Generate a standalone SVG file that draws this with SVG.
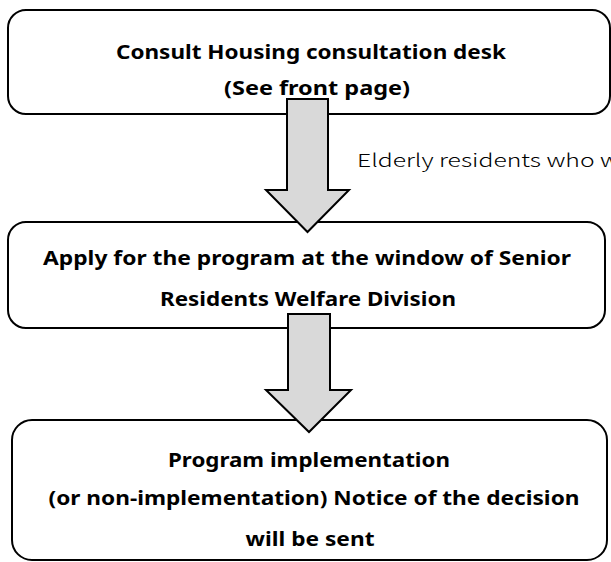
<svg xmlns="http://www.w3.org/2000/svg" width="611" height="562" viewBox="0 0 611 562">
<style>
.box{fill:#fff;stroke:#000;stroke-width:2}
.t{font-family:"Noto Sans","DejaVu Sans",sans-serif;font-weight:bold;font-size:19px;fill:#000;text-anchor:middle}
.note{font-family:"Noto Sans CJK JP","Noto Sans",sans-serif;font-weight:300;font-size:18px;fill:#000}
.arrow{fill:#d9d9d9;stroke:#000;stroke-width:2;stroke-linejoin:miter}
</style>
<rect width="611" height="562" fill="#fff"/>
<g id="node1">
<rect class="box" x="8" y="10" width="602" height="104" rx="18"/>
<text class="t" x="311" y="59" textLength="390" lengthAdjust="spacingAndGlyphs">Consult Housing consultation desk</text>
<text class="t" x="317" y="95" textLength="186" lengthAdjust="spacingAndGlyphs">(See front page)</text>
</g>
<g id="node2">
<rect class="box" x="8" y="222" width="597" height="106" rx="18"/>
<text class="t" x="307" y="265" textLength="528" lengthAdjust="spacingAndGlyphs">Apply for the program at the window of Senior</text>
<text class="t" x="308" y="306" textLength="296" lengthAdjust="spacingAndGlyphs">Residents Welfare Division</text>
</g>
<g id="node3">
<rect class="box" x="12" y="420" width="595" height="140" rx="20"/>
<text class="t" x="309" y="467" textLength="282" lengthAdjust="spacingAndGlyphs">Program implementation</text>
<text class="t" x="314" y="505" textLength="531" lengthAdjust="spacingAndGlyphs">(or non-implementation) Notice of the decision</text>
<text class="t" x="310" y="546" textLength="129" lengthAdjust="spacingAndGlyphs">will be sent</text>
</g>
<g id="connectors">
<polygon class="arrow" points="287,99 328,99 328,190 349,190 307.5,232 266,190 287,190"/>
<polygon class="arrow" points="288,314 330,314 330,390 351,390 309,432 266,390 288,390"/>
</g>
<text class="note" x="357" y="167" textLength="262" lengthAdjust="spacingAndGlyphs">Elderly residents who w</text>
</svg>
